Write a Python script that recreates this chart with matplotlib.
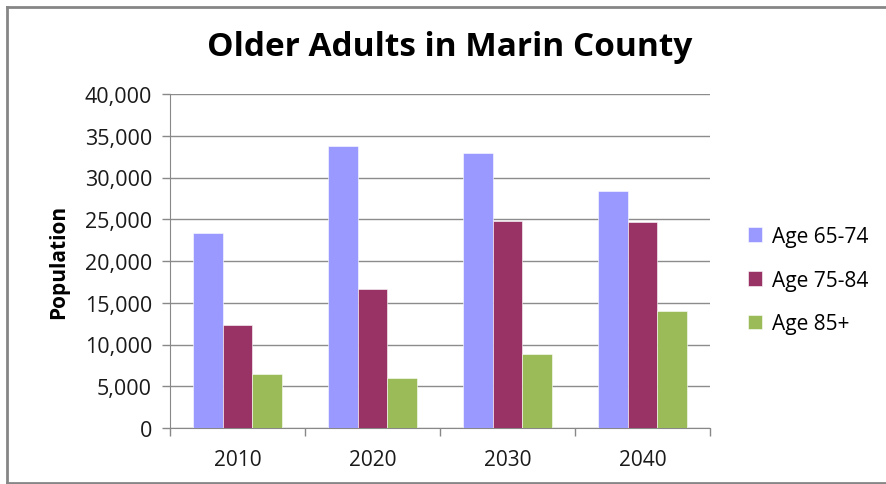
import matplotlib
matplotlib.use("Agg")
import matplotlib.pyplot as plt
import numpy as np
from matplotlib.ticker import FuncFormatter, FixedLocator
from matplotlib.lines import Line2D

years = ["2010", "2020", "2030", "2040"]
series_names = ["Age 65-74", "Age 75-84", "Age 85+"]
age_65_74 = [23400, 33800, 32900, 28400]
age_75_84 = [12350, 16650, 24800, 24700]
age_85_plus = [6500, 6000, 8830, 14000]
colors = ["#9999FF", "#993366", "#9BBB59"]

plt.rcParams['font.family'] = ['Open Sans', 'DejaVu Sans']

fig = plt.figure(figsize=(8.87, 4.85), dpi=100)
fig.patch.set_facecolor("white")
# outer frame (top, left, bottom; right edge cut off)
W, H = 887, 485
fx = lambda px: px / W
fy = lambda py: 1 - py / H
for xs, ys in [([7.5, 887], [8, 8]), ([7.5, 7.5], [8, 483.5]), ([7.5, 887], [483.5, 483.5])]:
    fig.lines.append(Line2D([fx(v) for v in xs], [fy(v) for v in ys],
                            transform=fig.transFigure, color="#868686", linewidth=2))

ax = fig.add_axes([fx(170), fy(429), (710-170)/W, (429-95)/H])
x = np.arange(len(years))
w = 0.222
for i, (vals, name) in enumerate(zip([age_65_74, age_75_84, age_85_plus], series_names)):
    ax.bar(x + (i-1)*w, vals, width=w, color=colors[i], label=name,
           edgecolor="#ffffff", linewidth=0.4, zorder=3)

ax.set_xlim(-0.5, len(years)-0.5)
ax.set_ylim(0, 40000)
ax.set_yticks(np.arange(0, 40001, 5000))
ax.yaxis.set_major_formatter(FuncFormatter(lambda v, p: f"{int(v):,}"))
ax.set_xticks(x)
ax.set_xticklabels(years)
ax.xaxis.set_minor_locator(FixedLocator(np.arange(-0.5, len(years), 1)))
ax.tick_params(axis='x', which='major', length=0, pad=15, labelsize=15, labelcolor="#1a1a1a")
ax.tick_params(axis='x', which='minor', length=6, color="#888888", width=1)
ax.tick_params(axis='y', length=6, color="#888888", width=1, pad=7, labelsize=15.5, labelcolor="#1a1a1a")
ax.grid(axis='y', color="#8c8c8c", linewidth=1, zorder=0)
for s in ["top", "right"]:
    ax.spines[s].set_visible(False)
ax.spines["left"].set_color("#888888")
ax.spines["bottom"].set_color("#888888")

ax.set_ylabel("Population", fontsize=15, fontweight="bold", labelpad=11)
fig.text(fx(450), fy(48), "Older Adults in Marin County", ha="center", va="center",
         fontsize=24, fontweight="bold")

fig.legend(loc="center left", bbox_to_anchor=(fx(729), fy(281)), frameon=False,
           fontsize=15, handlelength=0.7, handleheight=0.7, handletextpad=0.45,
           labelspacing=1.1)

fig.savefig("out.png", dpi=100)
